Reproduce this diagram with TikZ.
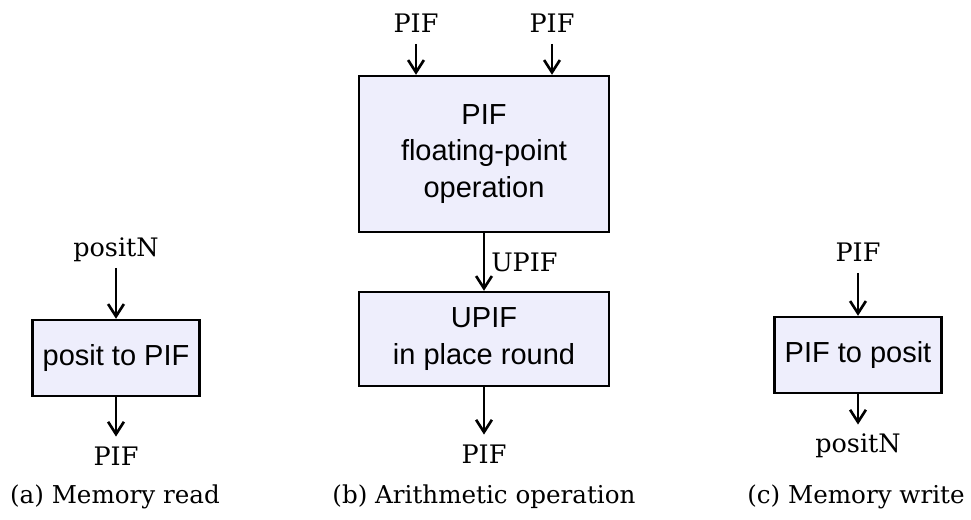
\documentclass[tikz,border=0pt]{standalone}
\usepackage{fontspec}
\setmainfont{DejaVu Serif}
\newfontfamily\boxfont{Liberation Sans}
\usepackage{tikz}
\usetikzlibrary{arrows.meta, positioning}
\definecolor{pifblue}{RGB}{238,238,252}
\tikzset{
  unit/.style={rectangle, draw=black, fill=pifblue, line width=1.4pt, align=center, font=\boxfont\fontsize{16.5}{21}\selectfont, inner sep=2pt},
  sig/.style={anchor=base, inner sep=2pt, text height=14pt, text depth=4pt, font=\fontsize{14.5}{18}\selectfont},
  caption/.style={anchor=base, font=\fontsize{14}{18}\selectfont},
  arrowline/.style={-{Straight Barb[length=7pt, width=9pt, line width=1.5pt]}, line width=1.6pt},
}
\begin{document}
\begin{tikzpicture}[x=0.02cm, y=-0.02cm]
\useasboundingbox (0,0) rectangle (971,520);
% (a) memory read
\node[unit, minimum width=3.34cm, minimum height=1.52cm] (p2pif) at (116,358) {posit to PIF};
\node[sig] (rdin) at (116,257) {positN};
\node[sig] (rdout) at (116,465) {PIF};
\node[caption] (capa) at (115,503) {(a) Memory read};
% (b) arithmetic operation
\node[unit, minimum width=5cm, minimum height=3.12cm] (fpop) at (484,154) {PIF\\ floating-point\\ operation};
\node[unit, minimum width=5cm, minimum height=1.88cm] (round) at (484,339) {UPIF\\ in place round};
\node[sig] (opa) at (416,33) {PIF};
\node[sig] (opb) at (552,33) {PIF};
\node[sig] (opout) at (484,463) {PIF};
\node[caption] (capb) at (484,503) {(b) Arithmetic operation};
% (c) memory write
\node[unit, minimum width=3.34cm, minimum height=1.52cm] (pif2p) at (858,355) {PIF to posit};
\node[sig] (wrin) at (858,262) {PIF};
\node[sig] (wrout) at (858,453) {positN};
\node[caption] (capc) at (856,503) {(c) Memory write};

\draw[arrowline] (rdin) -- (p2pif);
\draw[arrowline] (p2pif) -- (rdout);
\draw[arrowline] (opa) -- (opa |- fpop.north);
\draw[arrowline] (opb) -- (opb |- fpop.north);
\draw[arrowline] (fpop) -- (round) node[midway, right, font=\fontsize{14.5}{18}\selectfont] {UPIF};
\draw[arrowline] (round) -- (opout);
\draw[arrowline] (wrin) -- (pif2p);
\draw[arrowline] (pif2p) -- (wrout);
\end{tikzpicture}
\end{document}
